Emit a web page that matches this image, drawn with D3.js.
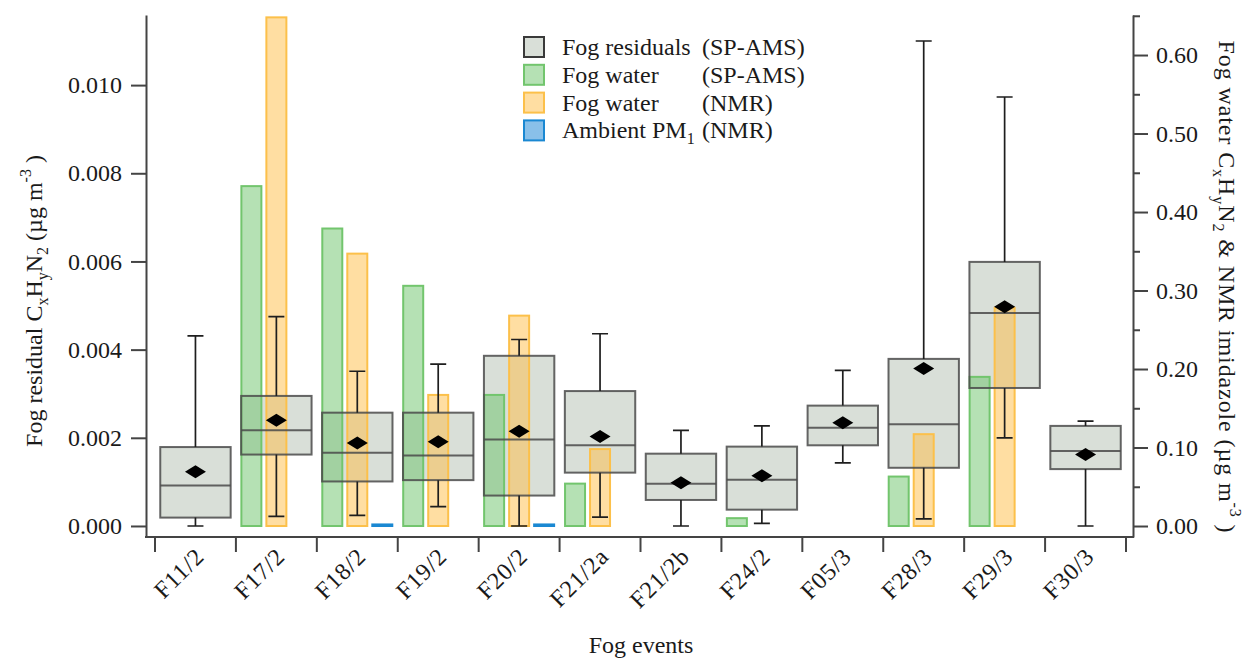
<!DOCTYPE html>
<html>
<head>
<meta charset="utf-8">
<script src="https://cdn.jsdelivr.net/npm/d3@7"></script>
<style>
  body { margin: 0; background: #fff; }
  svg { display: block; }
  text { font-family: "Liberation Serif", "Times New Roman", serif; fill: #1a1a1a; }
</style>
</head>
<body>
<svg id="chart" width="1251" height="660"></svg>
<script>
// fog events (categories)
var events = ['F11/2', 'F17/2', 'F18/2', 'F19/2', 'F20/2', 'F21/2a', 'F21/2b', 'F24/2', 'F05/3', 'F28/3', 'F29/3', 'F30/3']

// fog residuals (SP-AMS) box statistics, left axis
var resMin = [0, 0.00022, 0.00024, 0.00044, 0, 0.00020, 0, 0.00006, 0.00143, 0.00016, 0.00200, 0]
var resQ1 = [0.00019, 0.00162, 0.00101, 0.00104, 0.00069, 0.00121, 0.00059, 0.00037, 0.00183, 0.00132, 0.00313, 0.00129]
var resMed = [0.00092, 0.00217, 0.00166, 0.00160, 0.00196, 0.00183, 0.00096, 0.00105, 0.00223, 0.00231, 0.00483, 0.00170]
var resQ3 = [0.00179, 0.00295, 0.00257, 0.00257, 0.00386, 0.00306, 0.00164, 0.00180, 0.00273, 0.00379, 0.00599, 0.00227]
var resMax = [0.00431, 0.00475, 0.00351, 0.00367, 0.00423, 0.00436, 0.00217, 0.00227, 0.00353, 0.01100, 0.00973, 0.00238]
var resMean = [0.00123, 0.00240, 0.00188, 0.00191, 0.00215, 0.00203, 0.00098, 0.00114, 0.00234, 0.00357, 0.00497, 0.00162]

// bars, right axis
var fogWaterAms = [null, 0.433, 0.379, 0.306, 0.167, 0.054, null, 0.010, null, 0.063, 0.190, null]
var fogWaterNmr = [null, 0.648, 0.347, 0.167, 0.268, 0.098, null, null, null, 0.117, 0.278, null]
var ambientNmr = [null, null, 0.002, null, 0.002, null, null, null, null, null, null, null]

// tick values
var leftTicks = [0, 0.002, 0.004, 0.006, 0.008, 0.010]
var rightTicks = [0, 0.1, 0.2, 0.3, 0.4, 0.5, 0.6]
var rightMinor = [0.05, 0.15, 0.25, 0.35, 0.45, 0.55, 0.65]

var svg = d3.select('#chart')
var plotL = 146, plotR = 1133, plotT = 15, plotB = 537

var x = d3.scaleBand().domain(events).range([155, 1126])
var xs = d3.scaleBand().domain(['ams', 'nmr', 'pm']).range([-37.5, 37.5]).paddingInner(0.2).paddingOuter(0.1)
var yL = d3.scaleLinear().domain([-0.00025, 0.01159]).range([plotB, plotT])
var yR = d3.scaleLinear().domain([-0.0140, 0.651]).range([plotB, plotT])

var boxW = x.bandwidth() * 0.87
var cx = function(i) { return x(events[i]) + x.bandwidth() / 2 }

var rows = events.map(function(e, i) {
    return { i: i, min: resMin[i], q1: resQ1[i], med: resMed[i], q3: resQ3[i], max: resMax[i], mean: resMean[i] }
})

// box fills first
svg.append('g').selectAll('rect')
    .data(rows)
    .enter()
    .append('rect')
    .attr('x', d => cx(d.i) - boxW / 2)
    .attr('y', d => yL(d.q3))
    .attr('width', boxW)
    .attr('height', d => yL(d.q1) - yL(d.q3))
    .style('fill', '#d9dfd8')

// bars
var barSeries = [
    { key: 'ams', vals: fogWaterAms, fill: 'rgba(108,196,106,0.5)', stroke: '#72c56d' },
    { key: 'nmr', vals: fogWaterNmr, fill: 'rgba(255,190,70,0.5)', stroke: '#fcc04a' },
    { key: 'pm', vals: ambientNmr, fill: 'rgba(40,140,215,0.6)', stroke: '#1a88d2' }
]
barSeries.forEach(function(s) {
    var data = s.vals.map((v, i) => ({ i: i, v: v })).filter(d => d.v != null)
    svg.append('g').selectAll('rect')
        .data(data)
        .enter()
        .append('rect')
        .attr('x', d => cx(d.i) + xs(s.key))
        .attr('y', d => yR(d.v))
        .attr('width', xs.bandwidth())
        .attr('height', d => yR(0) - yR(d.v))
        .style('fill', s.fill)
        .style('stroke', s.stroke)
        .style('stroke-width', 2)
})

// box outlines, medians, whiskers
var bx = svg.append('g').style('stroke', '#4a4a4a')
bx.selectAll('.box')
    .data(rows)
    .enter()
    .append('rect')
    .attr('x', d => cx(d.i) - boxW / 2)
    .attr('y', d => yL(d.q3))
    .attr('width', boxW)
    .attr('height', d => yL(d.q1) - yL(d.q3))
    .style('fill', 'none')
    .style('stroke-width', 2)
    .style('stroke-opacity', 0.85)
bx.selectAll('.med')
    .data(rows)
    .enter()
    .append('line')
    .attr('x1', d => cx(d.i) - boxW / 2)
    .attr('x2', d => cx(d.i) + boxW / 2)
    .attr('y1', d => yL(d.med))
    .attr('y2', d => yL(d.med))
    .style('stroke-width', 2)
    .style('stroke-opacity', 0.85)
bx.selectAll('.wu')
    .data(rows)
    .enter()
    .append('path')
    .attr('d', d => 'M' + cx(d.i) + ',' + yL(d.q3) + 'V' + yL(d.max) + 'M' + (cx(d.i) - 8) + ',' + yL(d.max) + 'H' + (cx(d.i) + 8)
        + 'M' + cx(d.i) + ',' + yL(d.q1) + 'V' + yL(d.min) + 'M' + (cx(d.i) - 8) + ',' + yL(d.min) + 'H' + (cx(d.i) + 8))
    .style('fill', 'none')
    .style('stroke', '#1e1e1e')
    .style('stroke-width', 1.7)

// mean diamonds
svg.append('g').selectAll('path')
    .data(rows)
    .enter()
    .append('path')
    .attr('d', d => {
        var px = cx(d.i), py = yL(d.mean)
        return 'M' + (px - 10.5) + ',' + py + 'L' + px + ',' + (py - 6.5) + 'L' + (px + 10.5) + ',' + py + 'L' + px + ',' + (py + 6.5) + 'Z'
    })
    .style('fill', '#000')

// axes
var gL = svg.append('g')
    .attr('transform', 'translate(' + plotL + ',0)')
    .call(d3.axisLeft(yL).tickValues(leftTicks).tickFormat(d3.format('.3f')).tickSize(15).tickSizeOuter(0).tickPadding(9))
var gR = svg.append('g')
    .attr('transform', 'translate(' + plotR + ',0)')
    .call(d3.axisRight(yR).tickValues(rightTicks).tickFormat(d3.format('.2f')).tickSize(15).tickSizeOuter(0).tickPadding(8))
svg.append('g')
    .attr('transform', 'translate(' + plotR + ',0)')
    .call(d3.axisRight(yR).tickValues(rightMinor).tickFormat('').tickSize(7).tickSizeOuter(0))
    .select('.domain').remove()
;[gL, gR].forEach(function(g) {
    g.attr('font-family', null)
    g.selectAll('text').style('font-size', '24px').style('font-family', '"Liberation Serif", serif').style('fill', '#1a1a1a')
})
svg.selectAll('.domain, .tick line').style('stroke', '#444').style('stroke-width', 2)

// bottom axis
svg.append('line')
    .attr('x1', plotL - 1).attr('x2', plotR + 1)
    .attr('y1', plotB).attr('y2', plotB)
    .style('stroke', '#444').style('stroke-width', 2)
var bounds = events.map(e => x(e)).concat([x(events[events.length - 1]) + x.bandwidth()])
svg.append('g').selectAll('line')
    .data(bounds)
    .enter()
    .append('line')
    .attr('x1', d => d).attr('x2', d => d)
    .attr('y1', plotB).attr('y2', plotB + 15)
    .style('stroke', '#444').style('stroke-width', 2)
svg.append('g').selectAll('text')
    .data(events)
    .enter()
    .append('text')
    .attr('transform', (d, i) => 'translate(' + (cx(i) + 10) + ',' + 558 + ')rotate(-45)')
    .attr('text-anchor', 'end')
    .style('font-size', '24px')
    .style('letter-spacing', '0.8px')
    .text(d => d)

// helper for sub / superscripts
function richText(sel, parts) {
    parts.forEach(function(p) {
        var t = sel.append('tspan').text(p[0])
        if (p[1] == 'sub') t.attr('dy', 6).style('font-size', '16px')
        if (p[1] == 'sup') t.attr('dy', -11).style('font-size', '16px')
        if (p[1] == 'back-sub') t.attr('dy', -6)
        if (p[1] == 'back-sup') t.attr('dy', 11)
    })
}

// axis titles
var tl = svg.append('text')
    .attr('transform', 'translate(42,301)rotate(-90)')
    .attr('text-anchor', 'middle')
    .style('font-size', '24px')
richText(tl, [['Fog residual C'], ['x', 'sub'], ['H', 'back-sub'], ['y', 'sub'], ['N', 'back-sub'], ['2', 'sub'],
    [' (µg m', 'back-sub'], ['-3', 'sup'], [' )', 'back-sup']])

var tr = svg.append('text')
    .attr('transform', 'translate(1219,287)rotate(90)')
    .attr('text-anchor', 'middle')
    .style('font-size', '24px')
    .style('letter-spacing', '0.9px')
richText(tr, [['Fog water C'], ['x', 'sub'], ['H', 'back-sub'], ['y', 'sub'], ['N', 'back-sub'], ['2', 'sub'],
    [' & NMR imidazole (µg m', 'back-sub'], ['-3', 'sup'], [' )', 'back-sup']])

svg.append('text')
    .attr('x', 641).attr('y', 653)
    .attr('text-anchor', 'middle')
    .style('font-size', '24px')
    .text('Fog events')

// legend
var legendItems = [
    { name: 'Fog residuals', src: '(SP-AMS)', fill: '#d9dfd8', stroke: '#3a3a3a' },
    { name: 'Fog water', src: '(SP-AMS)', fill: 'rgba(108,196,106,0.5)', stroke: '#72c56d' },
    { name: 'Fog water', src: '(NMR)', fill: 'rgba(255,190,70,0.5)', stroke: '#fcc04a' },
    { name: 'Ambient PM', sub: '1', src: '(NMR)', fill: 'rgba(40,140,215,0.55)', stroke: '#1a88d2' }
]
var lg = svg.append('g')
legendItems.forEach(function(d, i) {
    var yy = 47 + i * 27.8
    lg.append('rect')
        .attr('x', 524).attr('y', yy - 10)
        .attr('width', 20).attr('height', 20)
        .style('fill', d.fill).style('stroke', d.stroke).style('stroke-width', 2)
    var t = lg.append('text').attr('x', 562).attr('y', yy + 8).style('font-size', '24px')
    t.append('tspan').text(d.name)
    if (d.sub) t.append('tspan').attr('dy', 6).style('font-size', '16px').text(d.sub)
    lg.append('text').attr('x', 702).attr('y', yy + 8).style('font-size', '24px').text(d.src)
})
</script>
</body>
</html>
